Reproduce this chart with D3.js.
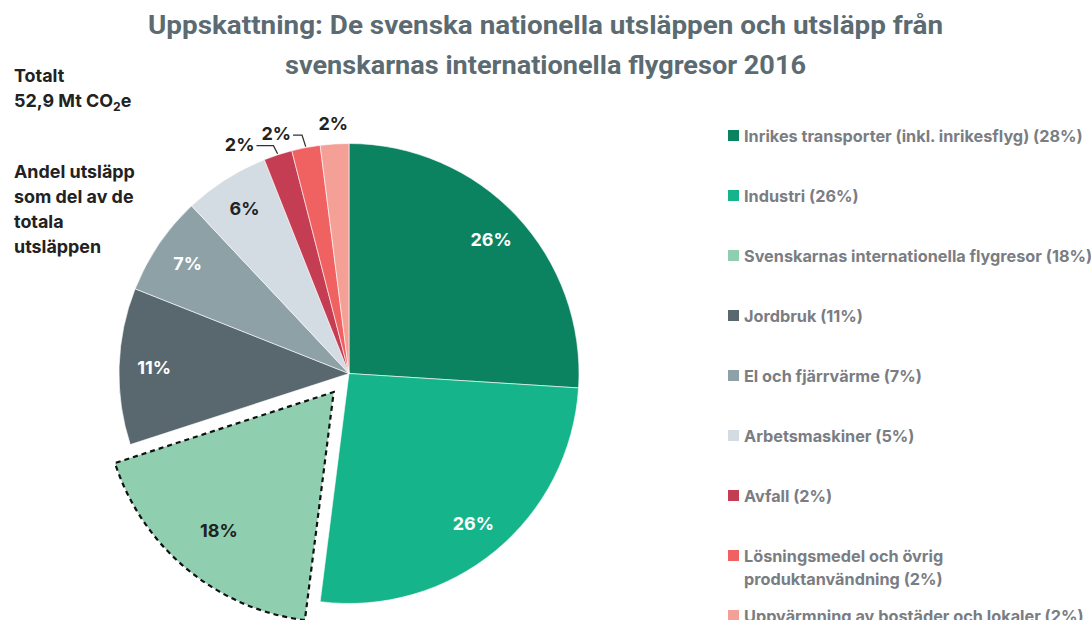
<!DOCTYPE html>
<html>
<head>
<meta charset="utf-8">
<script src="https://cdn.jsdelivr.net/npm/d3@7"></script>
<style>
  html, body { margin: 0; padding: 0; background: #fff; }
  svg { display: block; }
</style>
</head>
<body>
<svg id="chart" width="1091" height="620"></svg>
<script>
// ---------- data ----------
const categories = [
  "Inrikes transporter (inkl. inrikesflyg) (28%)",
  "Industri (26%)",
  "Svenskarnas internationella flygresor (18%)",
  "Jordbruk (11%)",
  "El och fjärrvärme (7%)",
  "Arbetsmaskiner (5%)",
  "Avfall (2%)",
  "Lösningsmedel och övrig\nproduktanvändning (2%)",
  "Uppvärmning av bostäder och lokaler (2%)"
];
const values = [26, 26, 18, 11, 7, 6, 2, 2, 2];
const sliceLabels = ["26%", "26%", "18%", "11%", "7%", "6%", "2%", "2%", "2%"];
const colors = ["#0b8360", "#16b48a", "#8fcfb0", "#59686f", "#8ea1a6", "#d3dbe3", "#c43d52", "#f06262", "#f5a097"];
const labelColors = ["#fff", "#fff", "#222", "#fff", "#fff", "#222", "#222", "#222", "#222"];
const explodedIndex = 2;
const titleLines = [
  "Uppskattning: De svenska nationella utsläppen och utsläpp från",
  "svenskarnas internationella flygresor 2016"
];
const noteLines = ["Andel utsläpp", "som del av de", "totala", "utsläppen"];

// ---------- layout ----------
const W = 1091, H = 620;
const cx = 349, cy = 373.5, R = 230;
const explode = 24;
const labelR = 195, explodedLabelR = 180;
// outside labels for small slices: [elbow radius, horizontal leader length]
const outside = {6: [240, 17], 7: [243, 9], 8: [null, 0]};

const svg = d3.select("#chart");
const font = "Inter, Roboto, 'Noto Sans', sans-serif";

// title
svg.append("g").selectAll("text").data(titleLines).join("text")
  .attr("x", W / 2).attr("y", (d, i) => 34 + i * 40)
  .attr("text-anchor", "middle")
  .attr("font-family", "Roboto, sans-serif").attr("font-weight", 700)
  .attr("font-size", 25).attr("fill", "#5b6b71")
  .text(d => d)
  .each(function(d, i) {
    const target = [795, 521][i];
    const w = this.getComputedTextLength();
    if (Math.abs(w - target) > 4) d3.select(this).attr("textLength", target).attr("lengthAdjust", "spacingAndGlyphs");
  });

// left notes (font size fitted to the reference text width)
const notes = svg.append("g").attr("font-family", font).attr("font-weight", 700)
  .attr("font-size", 16.5).attr("fill", "#222");
const probe = notes.append("text").text(noteLines[0]);
const noteSize = 16.5 * 121 / probe.node().getComputedTextLength();
probe.remove();
notes.attr("font-size", noteSize);
notes.append("text").attr("x", 14).attr("y", 82).text("Totalt");
const t2 = notes.append("text").attr("x", 14).attr("y", 107);
t2.append("tspan").text("52,9 Mt CO");
t2.append("tspan").attr("font-size", noteSize * 0.68).attr("dy", 4).text("2");
t2.append("tspan").attr("dy", -4).text("e");
noteLines.forEach((s, i) => {
  notes.append("text").attr("x", 14).attr("y", 178 + i * 25).text(s);
});

// pie
const pie = d3.pie().sort(null).value(d => d)(values);
const arc = d3.arc().innerRadius(0).outerRadius(R);
const g = svg.append("g").attr("transform", `translate(${cx},${cy})`);

function polar(angle, r) { return [Math.sin(angle) * r, -Math.cos(angle) * r]; }
function offsetOf(i) {
  if (i !== explodedIndex) return [0, 0];
  const a = (pie[i].startAngle + pie[i].endAngle) / 2;
  return polar(a, explode);
}

g.selectAll("path.slice").data(pie).join("path")
  .attr("class", "slice")
  .attr("d", arc)
  .attr("transform", (d, i) => `translate(${offsetOf(i)})`)
  .attr("fill", (d, i) => colors[i])
  .attr("stroke", (d, i) => i === explodedIndex ? "#111" : "#fff")
  .attr("stroke-width", (d, i) => i === explodedIndex ? 2.2 : 0.6)
  .attr("stroke-dasharray", (d, i) => i === explodedIndex ? "5,4" : null)
  .attr("stroke-linejoin", "miter");

// inside labels
pie.forEach((d, i) => {
  if (outside[i]) return;
  const a = (d.startAngle + d.endAngle) / 2;
  const r = i === explodedIndex ? explodedLabelR : labelR;
  const p = polar(a, r), o = offsetOf(i);
  g.append("text")
    .attr("x", p[0] + o[0]).attr("y", p[1] + o[1])
    .attr("dy", "0.35em").attr("text-anchor", "middle")
    .attr("font-family", font).attr("font-weight", 700).attr("font-size", 18)
    .attr("fill", labelColors[i]).text(sliceLabels[i]);
});

// outside labels with leaders
pie.forEach((d, i) => {
  if (!outside[i]) return;
  const a = (d.startAngle + d.endAngle) / 2;
  const [elbowR, hLen] = outside[i];
  if (elbowR === null) {
    const p = polar(a, R + 20);
    g.append("text").attr("x", p[0]).attr("y", p[1]).attr("dy", "0.35em")
      .attr("text-anchor", "middle").attr("font-family", font).attr("font-weight", 700)
      .attr("font-size", 18).attr("fill", labelColors[i]).text(sliceLabels[i]);
    return;
  }
  const p1 = polar(a, R + 1);
  const p2 = polar(a - 0.006, elbowR);
  const p3 = [p2[0] - hLen, p2[1]];
  g.append("path")
    .attr("d", d3.line()([p1, p2, p3]))
    .attr("fill", "none").attr("stroke", "#333").attr("stroke-width", 1.3);
  g.append("text").attr("x", p3[0] - 2).attr("y", p3[1]).attr("dy", "0.3em")
    .attr("text-anchor", "end").attr("font-family", font).attr("font-weight", 700)
    .attr("font-size", 18).attr("fill", labelColors[i]).text(sliceLabels[i]);
});

// legend (font size fitted to the reference width of the first entry)
const legend = svg.append("g").attr("font-family", font).attr("font-weight", 700)
  .attr("font-size", 15.5).attr("fill", "#7a7d82");
const lprobe = legend.append("text").text(categories[0]);
const legendSize = Math.min(17, 15.5 * 339 / lprobe.node().getComputedTextLength());
lprobe.remove();
legend.attr("font-size", legendSize);
categories.forEach((c, i) => {
  const lines = c.split("\n");
  const y = 142 + i * 60;
  legend.append("rect").attr("x", 728).attr("y", y - 12).attr("width", 11).attr("height", 11).attr("fill", colors[i]);
  lines.forEach((ln, j) => {
    legend.append("text").attr("x", 744).attr("y", y + j * 23).text(ln);
  });
});
</script>
</body>
</html>
